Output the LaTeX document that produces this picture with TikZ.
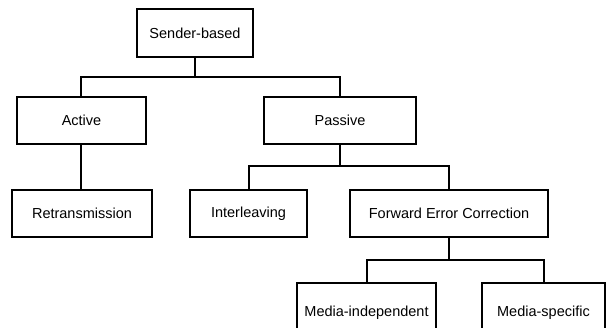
\documentclass[tikz,border=0pt]{standalone}
\usepackage{fontspec}
\setmainfont{Liberation Sans}
\begin{document}
\begin{tikzpicture}[x=1pt,y=-1pt,
  box/.style={draw=black, line width=2pt, inner sep=0pt, align=center,
    font=\fontsize{14.5}{17}\selectfont},
  link/.style={line width=2pt}]
\useasboundingbox (0,0) rectangle (611,328);
\node[box, minimum width=116pt, minimum height=48pt] (s) at (195,33) {Sender-based};
\node[box, minimum width=129pt, minimum height=47pt] (a) at (81.5,120.5) {Active};
\node[box, minimum width=152pt, minimum height=47pt] (p) at (340,120.5) {Passive};
\node[box, minimum width=140pt, minimum height=47pt] (r) at (82,213.5) {Retransmission};
\node[box, minimum width=117pt, minimum height=47pt] (i) at (248.5,213.5) {Interleaving};
\node[box, minimum width=198pt, minimum height=47pt] (f) at (449,213.5) {Forward Error Correction};
\node[box, minimum width=139pt, minimum height=60pt] (mi) at (366.5,313) {Media-independent};
\node[box, minimum width=123pt, minimum height=60pt] (ms) at (543.5,313) {Media-specific};
\coordinate (j1) at (195,77);
\coordinate (j2) at (340,166);
\coordinate (j3) at (449,260);
\draw[link] (s.south) -- (j1);
\draw[link] (a.north -| 81,0) |- (j1) -| (p.north);
\draw[link] (a.south -| 81,0) -- (r.north -| 81,0);
\draw[link] (p.south) -- (j2);
\draw[link] (i.north) |- (j2) -| (f.north);
\draw[link] (f.south) -- (j3);
\draw[link] (mi.north) |- (j3) -| (ms.north);
\end{tikzpicture}
\end{document}
